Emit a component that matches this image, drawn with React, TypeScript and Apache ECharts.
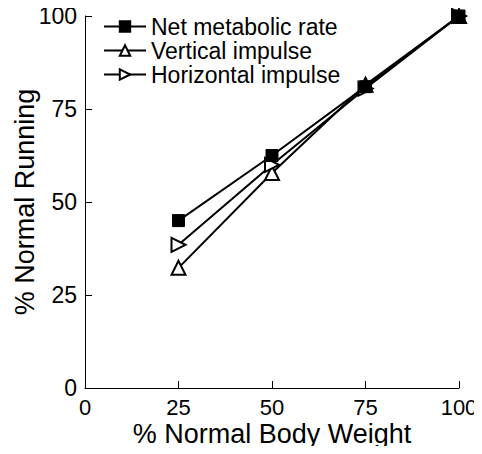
import React, { useEffect, useRef } from "react";
import * as echarts from "echarts";

const xValues = [25, 50, 75, 100];
const netMetabolic = [45, 62.5, 81, 100];
const verticalImpulse = [32.3, 57.8, 81.5, 100];
const horizontalImpulse = [38.5, 60, 80.5, 100];
const seriesNames = ["Net metabolic rate", "Vertical impulse", "Horizontal impulse"];
const ticks = [0, 25, 50, 75, 100];

const FONT = "Liberation Sans, Arial, sans-serif";

export default function App() {
  const ref = useRef<HTMLDivElement>(null);
  useEffect(() => {
    const chart = echarts.init(ref.current!, null, { renderer: "svg" });
    const pair = (arr: number[]) => xValues.map((x, i) => [x, arr[i]]);
    const lineStyle = { color: "#000", width: 2 };
    chart.setOption({
      animation: false,
      backgroundColor: "#fff",
      textStyle: { fontFamily: FONT, color: "#000" },
      grid: { left: 85, right: 23, top: 16, bottom: 66, containLabel: false, outerBoundsMode: "none" },
      legend: {
        orient: "vertical",
        left: 98,
        top: 10,
        padding: [5, 5, 5, 5],
        itemWidth: 42,
        itemHeight: 13,
        itemGap: 1,
        textStyle: { fontSize: 23, lineHeight: 22, fontFamily: FONT, color: "#000" },
        data: seriesNames,
      },
      xAxis: {
        type: "value",
        min: ticks[0],
        max: ticks[ticks.length - 1],
        interval: 25,
        name: "% Normal Body Weight",
        nameLocation: "middle",
        nameGap: 32,
        nameMoveOverlap: false,
        nameTextStyle: { fontSize: 27, lineHeight: 27, fontFamily: FONT, color: "#000" },
        axisLine: { lineStyle: { color: "#000", width: 1 } },
        axisTick: { inside: true, length: 7, lineStyle: { color: "#000" } },
        axisLabel: { fontSize: 22, fontFamily: FONT, color: "#000", margin: 8 },
        splitLine: { show: false },
      },
      yAxis: {
        type: "value",
        min: ticks[0],
        max: ticks[ticks.length - 1],
        interval: 25,
        name: "% Normal Running",
        nameLocation: "middle",
        nameGap: 47,
        nameMoveOverlap: false,
        nameTextStyle: { fontSize: 27, fontFamily: FONT, color: "#000" },
        axisLine: { show: true, lineStyle: { color: "#000", width: 1 } },
        axisTick: { show: true, inside: true, length: 7, lineStyle: { color: "#000" } },
        axisLabel: { fontSize: 23, fontFamily: FONT, color: "#000", margin: 8 },
        splitLine: { show: false },
      },
      series: [
        {
          name: seriesNames[0],
          type: "line",
          data: pair(netMetabolic),
          symbol: "rect",
          symbolSize: 12,
          lineStyle,
          itemStyle: { color: "#000", borderColor: "#000", borderWidth: 1 },
          z: 3,
        },
        {
          name: seriesNames[1],
          type: "line",
          data: pair(verticalImpulse),
          symbol: "triangle",
          symbolSize: 14,
          lineStyle,
          itemStyle: { color: "#fff", borderColor: "#000", borderWidth: 2 },
          z: 2,
        },
        {
          name: seriesNames[2],
          type: "line",
          data: pair(horizontalImpulse),
          symbol: "triangle",
          symbolRotate: -90,
          symbolSize: 14,
          lineStyle,
          itemStyle: { color: "#fff", borderColor: "#000", borderWidth: 2 },
          z: 2,
        },
      ],
    });
    return () => chart.dispose();
  }, []);
  return <div ref={ref} style={{ width: 482, height: 454, margin: -8 }} />;
}
